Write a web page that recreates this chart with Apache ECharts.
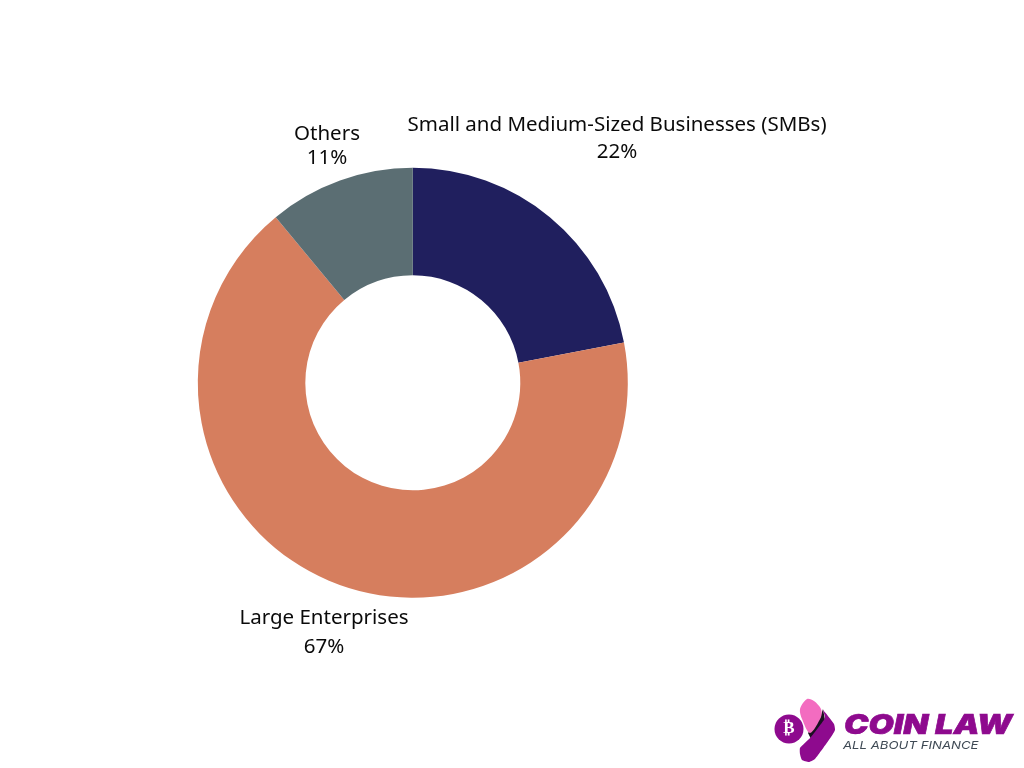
<!DOCTYPE html>
<html>
<head>
<meta charset="utf-8">
<style>html,body{margin:0;padding:0;background:#fff}#c{width:1024px;height:768px}</style>
<script src="https://cdn.jsdelivr.net/npm/echarts@6/dist/echarts.min.js"></script>
</head>
<body>
<div id="c"></div>
<script>
const categories = ['Small and Medium-Sized Businesses (SMBs)', 'Large Enterprises', 'Others'];
const shares = [22, 67, 11];
const colors = ['#201F5E', '#D67E5E', '#5B6E73'];
const labelFont = '"Noto Sans"';
const labelSpots = [
  {x: 617, y: 138.5, lh: 27},
  {x: 324, y: 632.5, lh: 29},
  {x: 327, y: 146, lh: 24}
];
const chart = echarts.init(document.getElementById('c'), null, {renderer: 'canvas'});
chart.setOption({
  animation: false,
  backgroundColor: '#ffffff',
  series: [{
    type: 'pie',
    center: [412.8, 382.8],
    radius: [107.5, 215],
    startAngle: 90,
    clockwise: true,
    silent: true,
    data: categories.map((n, i) => ({
      name: n, value: shares[i],
      itemStyle: {color: colors[i]},
      label: {lineHeight: labelSpots[i].lh}
    })),
    label: {
      show: true,
      formatter: p => p.name + '\n' + p.value + '%',
      fontFamily: labelFont,
      fontSize: 20.5,
      color: '#0a0a0a',
      align: 'center'
    },
    labelLine: {show: false},
    labelLayout: p => ({
      x: labelSpots[p.dataIndex].x,
      y: labelSpots[p.dataIndex].y,
      align: 'center',
      verticalAlign: 'middle'
    })
  }],
  graphic: [
    {type: 'circle', shape: {cx: 789, cy: 729, r: 14.5}, style: {fill: '#8E0A8E'}},
    {type: 'text', style: {x: 789, y: 729, text: '₿', fill: '#fff', font: 'bold 17px "DejaVu Sans"', align: 'center', verticalAlign: 'middle'}},
    {type: 'polygon', shape: {points: [[823,709],[825,720],[811,739],[808,733],[820,718]]}, style: {fill: '#1a1020'}},
    {type: 'polygon', shape: {smooth: 0.15, points: [[823,710],[834,724],[835,730],[831,737],[815,759],[809,762],[802,760],[800,754],[800,748],[811,737],[825,718]]}, style: {fill: '#8E0A8E'}},
    {type: 'polygon', shape: {smooth: 0.3, points: [[800,709],[807,699],[814,701],[821,709],[821,717],[810,733],[802,719]]}, style: {fill: '#F36CC0'}},
    {type: 'text', x: 844, y: 726, scaleX: 1.21, style: {x: 0, y: 0, text: 'COIN LAW', fill: '#8E0A8E', stroke: '#8E0A8E', lineWidth: 0.6, font: 'italic 900 27px "Inter"', verticalAlign: 'middle'}},
    {type: 'text', x: 843, y: 746, scaleX: 1.2, style: {x: 0, y: 0, text: 'ALL ABOUT FINANCE', fill: '#3F4A55', font: 'italic 400 11px "Inter"', verticalAlign: 'middle'}}
  ]
});
</script>
</body>
</html>
